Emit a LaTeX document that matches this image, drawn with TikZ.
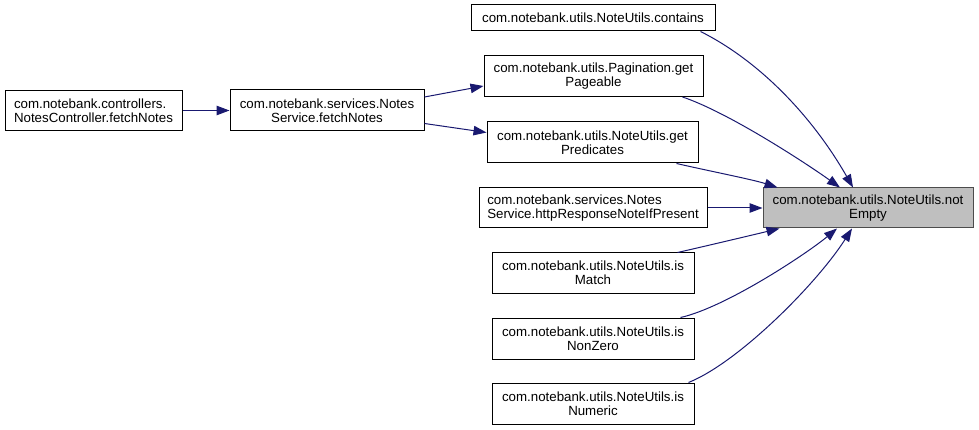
\documentclass[tikz,border=0pt]{standalone}
\usepackage{fontspec}
\setmainfont{Liberation Sans}
\usepackage{tikz}
\usetikzlibrary{calc,arrows.meta}
\definecolor{midnight}{RGB}{25,25,112}
\definecolor{grey75}{RGB}{191,191,191}

\begin{document}
\begin{tikzpicture}[x=1pt,y=-1pt,
    >={Triangle[length=13pt,width=9.5pt]},
    every node/.style={draw,line width=1pt,inner sep=0pt,align=center,
      font=\fontsize{13.3}{14}\selectfont},
    current/.style={fill=grey75,draw=black!70}]
    \useasboundingbox (0,0) rectangle (979,430);

    \draw node at (93.5,110.5)[name=ctrl,minimum width=177,minimum height=40,align=left]{com.notebank.controllers.\\NotesController.fetchNotes};
    \draw node at (327,110.5)[name=svcFetch,minimum width=194,minimum height=41]{com.notebank.services.Notes\\Service.fetchNotes};

    \draw node at (593,18)[name=contains,minimum width=244,minimum height=26]{com.notebank.utils.NoteUtils.contains};
    \draw node at (593.5,76)[name=pageable,minimum width=219,minimum height=41]{com.notebank.utils.Pagination.get\\Pageable};
    \draw node at (592.5,142.5)[name=predicates,minimum width=211,minimum height=41]{com.notebank.utils.NoteUtils.get\\Predicates};
    \draw node at (593,208)[name=httpResp,minimum width=228,minimum height=40,align=left]{com.notebank.services.Notes\\Service.httpResponseNoteIfPresent};
    \draw node at (593,273)[name=isMatch,minimum width=202,minimum height=40]{com.notebank.utils.NoteUtils.is\\Match};
    \draw node at (593,338.5)[name=isNonZero,minimum width=202,minimum height=41]{com.notebank.utils.NoteUtils.is\\NonZero};
    \draw node at (593,403.5)[name=isNumeric,minimum width=202,minimum height=41]{com.notebank.utils.NoteUtils.is\\Numeric};

    \draw node at (868,208)[name=notEmpty,current,minimum width=210,minimum height=40]{com.notebank.utils.NoteUtils.not\\Empty};

    \begin{scope}[midnight,line width=1pt]
    \draw[->](ctrl) -- (svcFetch);
    \draw[->]($(svcFetch.east)+(0,-13.5)$) -- ($(pageable.west)+(0,10)$);
    \draw[->]($(svcFetch.east)+(0,13)$) -- ($(predicates.west)+(0,-10)$);

    \draw[->]($(contains.south east)+(-15,0)$) .. controls +(60,30) and +(-40,-70) .. ($(notEmpty.north)+(-15,0)$);
    \draw[->]($(pageable.south east)+(-21,0)$) .. controls +(45,15) and +(-35,-25) .. ($(notEmpty.north)+(-28,0)$);
    \draw[->]($(predicates.south east)+(-22,0)$) .. controls +(35,8) and +(-25,-8) .. ($(notEmpty.north west)+(15,0)$);
    \draw[->](httpResp) -- (notEmpty);
    \draw[->]($(isMatch.north east)+(-17,0)$) .. controls +(35,-8) and +(-25,6) .. ($(notEmpty.south west)+(17,0)$);
    \draw[->]($(isNonZero.north east)+(-14,0)$) .. controls +(45,-10) and +(-30,25) .. ($(notEmpty.south)+(-31,0)$);
    \draw[->]($(isNumeric.north east)+(-6,0)$) .. controls +(50,-20) and +(-35,55) .. ($(notEmpty.south)+(-16,0)$);
    \end{scope}
  \end{tikzpicture}
\end{document}
